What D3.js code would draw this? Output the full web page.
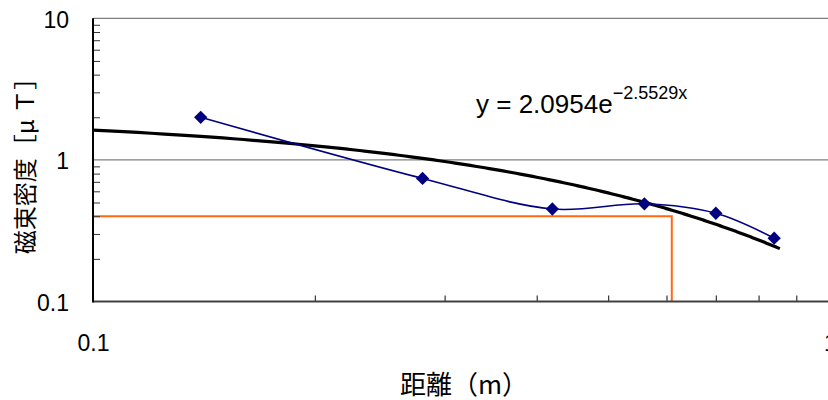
<!DOCTYPE html>
<html>
<head>
<meta charset="utf-8">
<script src="https://cdn.jsdelivr.net/npm/d3@7"></script>
<style>
    body { margin: 0; background: #fff; }
    text { font-family: "Liberation Sans", Arial, sans-serif; fill: #000; }
    .jp { font-family: "Noto Sans CJK JP", sans-serif; }
</style>
</head>
<body>
<div id="chart"></div>
<script>
// measured points (distance in m, flux density in uT)
const distance = [0.14, 0.28, 0.42, 0.56, 0.70, 0.84];
const fluxDensity = [2.0, 0.74, 0.45, 0.49, 0.42, 0.28];

// exponential trendline y = a * e^(b x), as printed on the chart
const trendA = 2.0954;
const trendB = -2.5529;
const trendRange = [0.1, 0.855];

// orange reference lines
const refDistance = 0.61;
const refFlux = 0.4;

const xLabelValues = [0.1, 1];
const xLabelText = ["0.1", "1"];
const xMinorTicks = [0.2, 0.3, 0.4, 0.5, 0.6, 0.7, 0.8, 0.9];
const yLabelValues = [0.1, 1, 10];
const yLabelText = ["0.1", "1", "10"];
const yMinorTicks = [0.2, 0.3, 0.4, 0.5, 0.6, 0.7, 0.8, 0.9, 2, 3, 4, 5, 6, 7, 8, 9];
const yGridValues = [1, 10];

const width = 828, height = 400;
const plot = { left: 93, right: 830, top: 18.3, bottom: 301.5 };

let svg = d3.select("#chart")
    .append("svg")
    .attr("width", width)
    .attr("height", height);

let x = d3.scaleLog()
    .domain([0.1, 1])
    .range([plot.left, plot.right]);

let y = d3.scaleLog()
    .domain([0.1, 10])
    .range([plot.bottom, plot.top]);

// gridlines
svg.append("g")
    .selectAll("line")
    .data(yGridValues)
    .join("line")
    .attr("x1", plot.left)
    .attr("x2", width)
    .attr("y1", d => y(d))
    .attr("y2", d => y(d))
    .attr("stroke", "#808080")
    .attr("stroke-width", 1.3);

// orange reference lines
let ref = d3.path();
ref.moveTo(x(0.1), y(refFlux));
ref.lineTo(x(refDistance), y(refFlux));
ref.lineTo(x(refDistance), y(0.1));
svg.append("path")
    .attr("d", ref.toString())
    .attr("fill", "none")
    .attr("stroke", "#ff6a10")
    .attr("stroke-width", 2);

// minor ticks (inside)
let yMinor = svg.append("g")
    .attr("transform", "translate(" + plot.left + ",0)")
    .call(d3.axisRight(y).tickValues(yMinorTicks).tickSize(7).tickSizeOuter(0).tickFormat(""));
yMinor.select(".domain").remove();
yMinor.selectAll("line").attr("stroke", "#333");

let xMinor = svg.append("g")
    .attr("transform", "translate(0," + plot.bottom + ")")
    .call(d3.axisTop(x).tickValues(xMinorTicks).tickSize(6).tickSizeOuter(0).tickFormat(""));
xMinor.select(".domain").remove();
xMinor.selectAll("line").attr("stroke", "#333").attr("stroke-width", 1.2);

// axis lines
svg.append("line")
    .attr("x1", plot.left).attr("x2", width)
    .attr("y1", plot.bottom).attr("y2", plot.bottom)
    .attr("stroke", "#404040")
    .attr("stroke-width", 2);
svg.append("line")
    .attr("x1", plot.left).attr("x2", plot.left)
    .attr("y1", plot.top).attr("y2", plot.bottom + 1)
    .attr("stroke", "#000")
    .attr("stroke-width", 2);

// tick labels
let yLabels = svg.append("g")
    .attr("transform", "translate(" + plot.left + ",0)")
    .call(d3.axisLeft(y).tickValues(yLabelValues).tickSize(0).tickPadding(24)
        .tickFormat((d, i) => yLabelText[i]));
yLabels.select(".domain").remove();
yLabels.selectAll("text")
    .attr("font-size", 23)
    .attr("dy", "0.38em")
    .style("font-family", "'Liberation Sans', Arial, sans-serif");

let xLabels = svg.append("g")
    .attr("transform", "translate(0," + plot.bottom + ")")
    .call(d3.axisBottom(x).tickValues(xLabelValues).tickSize(0).tickPadding(33)
        .tickFormat((d, i) => xLabelText[i]));
xLabels.select(".domain").remove();
xLabels.selectAll("text")
    .attr("font-size", 23)
    .attr("dy", "0.71em")
    .style("font-family", "'Liberation Sans', Arial, sans-serif");

// trendline from the fitted equation
let trendX = d3.range(trendRange[0], trendRange[1], 0.005).concat([trendRange[1]]);
let trendLine = d3.line()
    .x(d => x(d))
    .y(d => y(trendA * Math.exp(trendB * d)));
svg.append("path")
    .datum(trendX)
    .attr("d", trendLine)
    .attr("fill", "none")
    .attr("stroke", "#000")
    .attr("stroke-width", 3.2);

// measured series, smoothed
let points = distance.map((d, i) => ({ dist: d, flux: fluxDensity[i] }));
let line = d3.line()
    .x(d => x(d.dist))
    .y(d => y(d.flux))
    .curve(d3.curveCatmullRom.alpha(0.5));
svg.append("path")
    .datum(points)
    .attr("d", line)
    .attr("fill", "none")
    .attr("stroke", "#000080")
    .attr("stroke-width", 1.6);

svg.append("g")
    .selectAll("path")
    .data(points)
    .join("path")
    .attr("d", d3.symbol().type(d3.symbolSquare).size(88))
    .attr("transform", d => "translate(" + x(d.dist) + "," + y(d.flux) + ") rotate(45)")
    .attr("fill", "#000080");

// equation label
let eq = svg.append("text")
    .attr("x", 476)
    .attr("y", 113)
    .attr("font-size", 26);
eq.append("tspan").text("y = 2.0954e");
eq.append("tspan")
    .attr("font-size", 18)
    .attr("dy", -14)
    .text("\u22122.5529x");

// axis titles
svg.append("text")
    .attr("class", "jp")
    .attr("x", 464)
    .attr("y", 394)
    .attr("text-anchor", "middle")
    .attr("font-size", 26)
    .text("距離（m）");

svg.append("text")
    .attr("class", "jp")
    .attr("transform", "translate(34,160) rotate(-90)")
    .attr("text-anchor", "middle")
    .attr("font-size", 24)
    .text("磁束密度［μ Ｔ］");
</script>
</body>
</html>
